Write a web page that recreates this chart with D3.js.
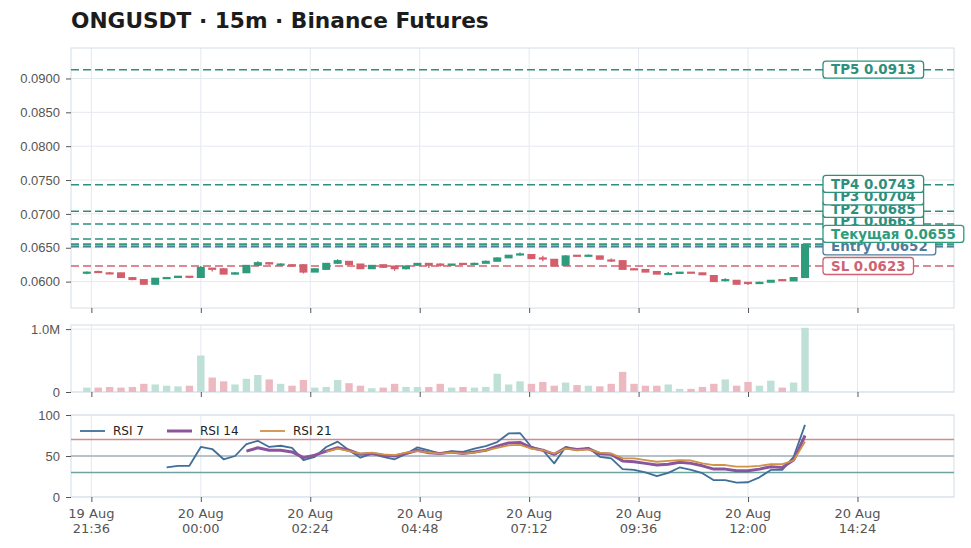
<!DOCTYPE html>
<html>
<head>
<meta charset="utf-8">
<title>ONGUSDT 15m</title>
<script src="https://cdn.jsdelivr.net/npm/d3@7"></script>
<style>
  body { margin: 0; background: #fff; }
  svg { display: block; font-family: "DejaVu Sans", sans-serif; }
  .tick text { fill: #555; font-size: 13px; }
  .tick line { stroke: #555; }
  .domain { display: none; }
</style>
</head>
<body>
<svg id="chart" width="971" height="548"></svg>
<script>

// ---- data ----
var startTime = new Date(2025, 7, 19, 21, 30);   // first 15m candle

var opens  = [0.0613,0.0615,0.0613,0.0613,0.0606,0.0603,0.0596,0.0605,0.0606,0.0608,
              0.0606,0.0620,0.0619,0.0611,0.0613,0.0624,0.0628,0.0625,0.0625,0.0625,
              0.0614,0.0618,0.0627,0.0630,0.0626,0.0619,0.0625,0.0623,0.0619,0.0624,
              0.0627,0.0626,0.0624,0.0627,0.0626,0.0627,0.0630,0.0635,0.0640,0.0640,
              0.0635,0.0633,0.0624,0.0639,0.0638,0.0638,0.0632,0.0631,0.0619,0.0618,
              0.0615,0.0611,0.0612,0.0614,0.0613,0.0609,0.0602,0.0602,0.0599,0.0597,
              0.0599,0.0603,0.0601,0.0606];
var highs  = [0.0615,0.0616,0.0614,0.0613,0.0606,0.0603,0.0605,0.0607,0.0608,0.0608,
              0.0623,0.0620,0.0620,0.0614,0.0624,0.0630,0.0628,0.0627,0.0626,0.0626,
              0.0619,0.0627,0.0633,0.0630,0.0626,0.0624,0.0625,0.0623,0.0624,0.0627,
              0.0627,0.0627,0.0626,0.0627,0.0628,0.0631,0.0636,0.0639,0.0643,0.0640,
              0.0638,0.0633,0.0639,0.0639,0.0640,0.0638,0.0634,0.0631,0.0620,0.0618,
              0.0615,0.0614,0.0614,0.0614,0.0613,0.0609,0.0605,0.0602,0.0599,0.0600,
              0.0602,0.0603,0.0606,0.0656];
var lows   = [0.0611,0.0613,0.0611,0.0606,0.0602,0.0595,0.0595,0.0604,0.0606,0.0605,
              0.0606,0.0615,0.0611,0.0610,0.0613,0.0623,0.0625,0.0623,0.0622,0.0612,
              0.0614,0.0618,0.0626,0.0625,0.0619,0.0619,0.0620,0.0616,0.0618,0.0624,
              0.0620,0.0622,0.0623,0.0625,0.0626,0.0627,0.0630,0.0635,0.0638,0.0633,
              0.0630,0.0623,0.0623,0.0637,0.0637,0.0633,0.0629,0.0618,0.0617,0.0614,
              0.0611,0.0611,0.0612,0.0613,0.0610,0.0600,0.0600,0.0596,0.0595,0.0597,
              0.0599,0.0601,0.0601,0.0606];
var closes = [0.0614,0.0614,0.0612,0.0606,0.0603,0.0596,0.0605,0.0606,0.0608,0.0607,
              0.0621,0.0618,0.0611,0.0613,0.0624,0.0628,0.0626,0.0626,0.0623,0.0614,
              0.0619,0.0627,0.0631,0.0625,0.0619,0.0624,0.0621,0.0619,0.0623,0.0627,
              0.0624,0.0624,0.0626,0.0626,0.0627,0.0630,0.0635,0.0639,0.0641,0.0634,
              0.0634,0.0623,0.0638,0.0638,0.0639,0.0633,0.0631,0.0618,0.0618,0.0614,
              0.0611,0.0612,0.0614,0.0613,0.0610,0.0600,0.0603,0.0596,0.0597,0.0599,
              0.0602,0.0602,0.0606,0.0655];
var volumes = [70e3,70e3,80e3,70e3,80e3,130e3,120e3,100e3,90e3,100e3,
               580e3,230e3,170e3,120e3,210e3,270e3,200e3,130e3,100e3,190e3,
               70e3,80e3,190e3,140e3,100e3,60e3,70e3,130e3,80e3,80e3,
               80e3,130e3,70e3,80e3,70e3,80e3,290e3,120e3,170e3,130e3,
               160e3,100e3,150e3,110e3,100e3,90e3,130e3,320e3,130e3,100e3,
               100e3,120e3,50e3,50e3,80e3,130e3,200e3,100e3,160e3,100e3,
               180e3,70e3,150e3,1020e3];

var rsi7Start = 7;
var rsi7 = [36,38,38,61,58.5,46,50,64.5,68.5,61,62.5,60,45,49,61,67.5,57,48,53,49,
            46,52.5,60.5,57,53,56,55,59,62,67,77.5,78,61,57,41,61,57,60,49,47,
            34,33,30,25.5,29.5,36,33,29,20.5,20.5,17.5,18,24,33,33,49,88];
var rsi14Start = 14;
var rsi14 = [56,60,57,57,55,48,51,56,60,57,52,53,51,50,53,57,54,53,55,53,
             55,57,62,66,66.5,60,57,52,60,58,59,53,52,44,43,41,39,40,42.5,41,
             38,34,34,32,32,34,37,36,45,75];
var rsi21Start = 21;
var rsi21 = [55,59,56,53,54,52,51,54,56,54,53,54,53,54,57,60,63,63.5,59,57,
             53,59,57,58,54,53,47.5,47,45,43,44,45,44.5,41,39,39,37,37,38,40,
             40,44.5,67.5];

var levelNames  = ["TP5", "TP4", "TP3", "TP2", "TP1", "Entry", "SL", "Текущая"];
var levelValues = [0.0913, 0.0743, 0.0704, 0.0685, 0.0663, 0.0652, 0.0623, 0.0655];

var priceTicks = [0.0600, 0.0650, 0.0700, 0.0750, 0.0800, 0.0850, 0.0900];
var volTicks = [0, 1000000];
var rsiTicks = [0, 50, 100];
var xTicks = [new Date(2025, 7, 19, 21, 36), new Date(2025, 7, 20, 0, 0),
              new Date(2025, 7, 20, 2, 24), new Date(2025, 7, 20, 4, 48),
              new Date(2025, 7, 20, 7, 12), new Date(2025, 7, 20, 9, 36),
              new Date(2025, 7, 20, 12, 0), new Date(2025, 7, 20, 14, 24)];

// ---- layout ----
var svg = d3.select("#chart");
var left = 71, right = 954;
var priceTop = 48, priceBottom = 308;
var volTop = 325, volBottom = 392;
var rsiTop = 415, rsiBottom = 497;

var green = "#2e9b7b", red = "#d45f6c";

var x = d3.scaleTime()
  .domain([new Date(2025, 7, 19, 21, 9, 12), new Date(2025, 7, 20, 16, 31, 0)])
  .range([left, right]);
var yPrice = d3.scaleLinear().domain([0.0561, 0.0945]).range([priceBottom, priceTop]);
var yVol = d3.scaleLinear().domain([0, 1065000]).range([volBottom, volTop]);
var yRsi = d3.scaleLinear().domain([0, 100]).range([rsiBottom, rsiTop]);

var candles = opens.map(function (o, i) {
  return {
    t: new Date(startTime.getTime() + i * 15 * 60000),
    o: o, h: highs[i], l: lows[i], c: closes[i], v: volumes[i]
  };
});

svg.append("text")
  .attr("x", left).attr("y", 28)
  .attr("font-size", "21.7px").attr("font-weight", "bold")
  .attr("fill", "#1c1c1c")
  .text("ONGUSDT · 15m · Binance Futures");

function panel(top, bottom, yScale, yTicks, yFormat, hGrid) {
  var g = svg.append("g");
  g.selectAll(".vg").data(xTicks).enter().append("line")
    .attr("x1", function (d) { return x(d); })
    .attr("x2", function (d) { return x(d); })
    .attr("y1", top).attr("y2", bottom)
    .attr("stroke", "#e4e9ef");
  if (hGrid) {
    g.selectAll(".hg").data(yTicks).enter().append("line")
      .attr("x1", left).attr("x2", right)
      .attr("y1", function (d) { return yScale(d); })
      .attr("y2", function (d) { return yScale(d); })
      .attr("stroke", "#e4e9ef");
  }
  g.append("rect")
    .attr("x", left).attr("y", top)
    .attr("width", right - left).attr("height", bottom - top)
    .attr("fill", "none").attr("stroke", "#d3dde8");
  g.append("g")
    .attr("transform", "translate(" + left + ",0)")
    .call(d3.axisLeft(yScale).tickValues(yTicks).tickFormat(yFormat).tickSize(5).tickPadding(6));
  g.append("g")
    .attr("transform", "translate(0," + bottom + ")")
    .call(d3.axisBottom(x).tickValues(xTicks).tickFormat("").tickSize(5));
  return g;
}

var gPrice = panel(priceTop, priceBottom, yPrice, priceTicks, d3.format(".4f"), true);
var gVol = panel(volTop, volBottom, yVol, volTicks, function (d) { return d === 0 ? "0" : (d / 1e6).toFixed(1) + "M"; }, true);
var gRsi = panel(rsiTop, rsiBottom, yRsi, rsiTicks, d3.format("d"), true);

// x tick labels (two lines)
var fmtDay = d3.timeFormat("%d %b"), fmtTime = d3.timeFormat("%H:%M");
var xl = svg.append("g").selectAll("text").data(xTicks).enter().append("text")
  .attr("text-anchor", "middle").attr("font-size", "13px").attr("fill", "#555");
xl.append("tspan").attr("x", function (d) { return x(d); }).attr("y", 518)
  .text(function (d) { return fmtDay(d); });
xl.append("tspan").attr("x", function (d) { return x(d); }).attr("y", 533)
  .text(function (d) { return fmtTime(d); });

// level lines
function levelColor(name) {
  if (name === "SL") return "#cf6372";
  if (name === "Entry") return "#4f7c9c";
  if (name === "Текущая") return "#2e9b7b";
  return "#2f8f7d";
}
var levels = levelNames.map(function (n, i) { return { name: n, v: levelValues[i] }; });

gPrice.selectAll(".lvl").data(levels).enter().append("line")
  .attr("x1", left).attr("x2", right)
  .attr("y1", function (d) { return yPrice(d.v); })
  .attr("y2", function (d) { return yPrice(d.v); })
  .attr("stroke", function (d) { return levelColor(d.name); })
  .attr("stroke-width", function (d) { return d.name === "Entry" || d.name === "Текущая" ? 2 : 1.5; })
  .attr("stroke-dasharray", "8,4");

// candles
var bw = 8;
var cg = gPrice.selectAll(".candle").data(candles).enter().append("g");
cg.append("line")
  .attr("x1", function (d) { return x(d.t); })
  .attr("x2", function (d) { return x(d.t); })
  .attr("y1", function (d) { return yPrice(d.h); })
  .attr("y2", function (d) { return yPrice(d.l); })
  .attr("stroke", function (d) { return d.c >= d.o ? green : red; })
  .attr("stroke-width", 1.3);
cg.append("rect")
  .attr("x", function (d) { return x(d.t) - bw / 2; })
  .attr("width", bw)
  .attr("y", function (d) { return yPrice(Math.max(d.o, d.c)) - 0.5; })
  .attr("height", function (d) { return Math.max(2.2, Math.abs(yPrice(d.o) - yPrice(d.c)) + 1); })
  .attr("fill", function (d) { return d.c >= d.o ? green : red; });

// volume
gVol.selectAll(".vb").data(candles).enter().append("rect")
  .attr("x", function (d) { return x(d.t) - 3.7; })
  .attr("width", 7.4)
  .attr("y", function (d) { return yVol(d.v); })
  .attr("height", function (d) { return yVol(0) - yVol(d.v); })
  .attr("fill", function (d) { return d.c >= d.o ? "#bfe0d6" : "#ecb9c0"; });

// RSI guide lines
[[70, "#d48a8a"], [50, "#a3b1bb"], [30, "#6fa3a0"]].forEach(function (h) {
  gRsi.append("line")
    .attr("x1", left).attr("x2", right)
    .attr("y1", yRsi(h[0])).attr("y2", yRsi(h[0]))
    .attr("stroke", h[1]).attr("stroke-width", 1.5);
});

var rsiSeries = [
  { name: "RSI 7", vals: rsi7, start: rsi7Start, color: "#3f6f98", w: 1.8 },
  { name: "RSI 14", vals: rsi14, start: rsi14Start, color: "#8a559c", w: 3 },
  { name: "RSI 21", vals: rsi21, start: rsi21Start, color: "#cf9247", w: 1.8 }
];
var line = d3.line()
  .x(function (d) { return x(candles[d.i].t); })
  .y(function (d) { return yRsi(d.v); });
rsiSeries.forEach(function (s) {
  var pts = s.vals.map(function (v, k) { return { i: s.start + k, v: v }; });
  gRsi.append("path").datum(pts)
    .attr("d", line).attr("fill", "none")
    .attr("stroke", s.color).attr("stroke-width", s.w)
    .attr("stroke-linejoin", "round");
});

// legend
var legX = [80, 167, 260];
rsiSeries.forEach(function (s, i) {
  gRsi.append("line")
    .attr("x1", legX[i]).attr("x2", legX[i] + 25)
    .attr("y1", 431).attr("y2", 431)
    .attr("stroke", s.color).attr("stroke-width", s.w);
  gRsi.append("text")
    .attr("x", legX[i] + 33).attr("y", 435)
    .attr("font-size", "12px").attr("fill", "#222")
    .text(s.name);
});

// level labels, pushed apart so they stack like the original
var sorted = levels.slice().sort(function (a, b) { return a.v - b.v; });
var prevY = Infinity;
sorted.forEach(function (d) {
  var y = yPrice(d.v);
  d.ly = Math.min(y, prevY - 12.5);
  prevY = d.ly;
});
var drawOrder = ["SL", "Entry", "TP1", "TP2", "TP3", "TP4", "TP5", "Текущая"];
drawOrder.forEach(function (n) {
  var d = levels.filter(function (l) { return l.name === n; })[0];
  var c = levelColor(n);
  var g = gPrice.append("g");
  var box = g.append("rect")
    .attr("x", 823).attr("y", d.ly - 8.5)
    .attr("height", 17).attr("rx", 3)
    .attr("fill", "#fff").attr("stroke", c).attr("stroke-width", 1.3);
  var t = g.append("text")
    .attr("x", 831).attr("y", d.ly + 4.7)
    .attr("font-size", "13.4px").attr("font-weight", "bold")
    .attr("fill", c)
    .text(n + " " + d.v.toFixed(4));
  box.attr("width", t.node().getComputedTextLength() + 16);
});

</script>
</body>
</html>
